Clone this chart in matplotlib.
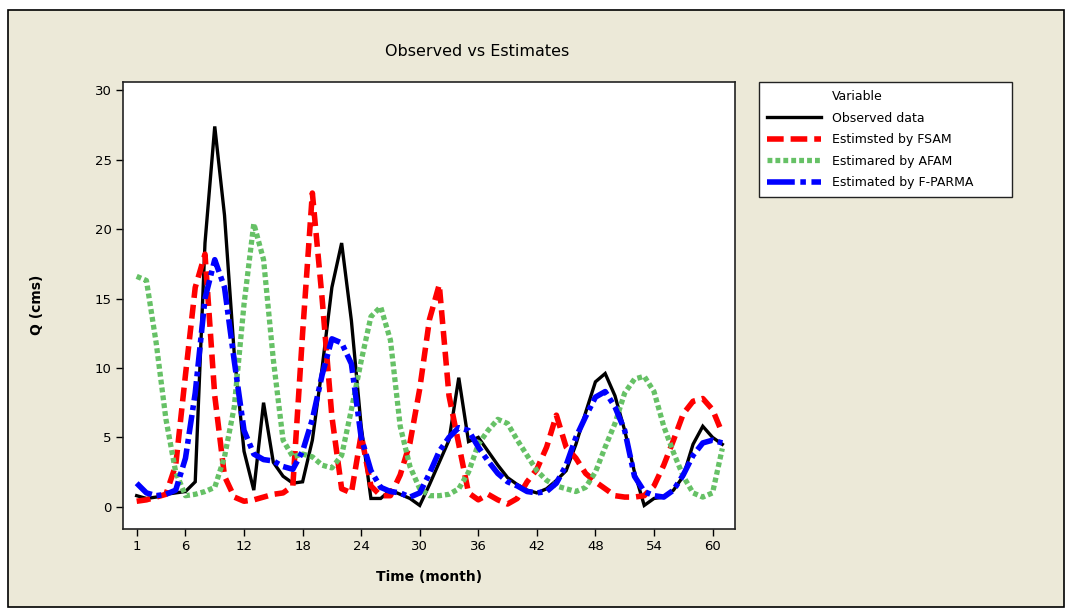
import numpy as np
import matplotlib
matplotlib.use('Agg')
import matplotlib.pyplot as plt
from matplotlib.lines import Line2D
from matplotlib.patches import Rectangle

plt.rcParams['font.family'] = ['DejaVu Sans']
plt.rcParams['lines.scale_dashes'] = False

months = np.arange(1, 62)

observed = [0.8, 0.6, 0.7, 0.9, 1.0, 1.1, 1.8, 19.0, 27.4, 21.0,
            11.0, 4.0, 1.2, 7.5, 3.2, 2.2, 1.7, 1.8, 4.8, 10.0,
            15.8, 19.0, 13.4, 5.8, 0.6, 0.6, 1.2, 0.9, 0.6, 0.1,
            1.6, 3.2, 4.8, 9.3, 4.7, 5.0, 4.0, 3.0, 2.1, 1.6,
            1.2, 1.0, 1.3, 1.9, 2.6, 4.5, 6.8, 9.0, 9.6, 8.0,
            5.5, 2.5, 0.1, 0.6, 0.7, 1.2, 2.2, 4.5, 5.8, 5.0, 4.5]
fsam = [0.4, 0.5, 0.7, 0.9, 3.0, 9.5, 15.8, 18.2, 8.0, 2.2,
        0.7, 0.4, 0.5, 0.7, 0.9, 1.0, 1.5, 12.5, 22.6, 15.0,
        6.5, 1.3, 1.0, 5.2, 1.5, 0.8, 0.8, 2.3, 4.6, 8.5,
        13.5, 16.0, 8.0, 4.5, 1.0, 0.5, 0.9, 0.5, 0.2, 0.6,
        1.8, 2.7, 4.3, 6.6, 4.3, 3.5, 2.4, 1.8, 1.3, 0.8,
        0.7, 0.7, 0.8, 1.5, 3.0, 4.8, 6.7, 7.6, 7.8, 7.0, 5.3]
afam = [16.6, 16.3, 11.8, 6.3, 2.5, 0.8, 0.9, 1.1, 1.4, 3.6,
        7.2, 14.6, 20.4, 17.8, 10.6, 4.8, 3.6, 3.8, 3.6, 3.0,
        2.8, 3.7, 7.0, 10.5, 13.7, 14.4, 12.0, 5.8, 2.9, 1.3,
        0.8, 0.8, 0.9, 1.3, 2.5, 4.5, 5.5, 6.3, 6.0, 4.8,
        3.7, 2.6, 1.9, 1.5, 1.3, 1.1, 1.4, 2.5, 4.3, 6.0,
        8.2, 9.2, 9.4, 8.3, 5.8, 3.9, 2.2, 1.0, 0.7, 1.0, 4.2]
fparma = [1.7, 1.0, 0.8, 0.9, 1.2, 3.5, 8.2, 15.0, 17.8, 15.8,
          10.5, 5.5, 3.8, 3.4, 3.3, 2.9, 2.7, 4.0, 6.3, 9.5,
          12.1, 11.8, 10.3, 5.0, 2.6, 1.4, 1.1, 1.0, 0.7, 1.0,
          2.4, 4.0, 5.0, 5.7, 5.5, 4.3, 3.3, 2.4, 1.8, 1.5,
          1.1, 1.0, 1.1, 1.7, 3.0, 5.0, 6.5, 7.9, 8.3, 7.2,
          5.5, 2.2, 1.1, 0.8, 0.7, 1.2, 2.3, 3.7, 4.6, 4.8, 4.6]

labels = ['Observed data', 'Estimsted by FSAM', 'Estimared by AFAM', 'Estimated by F-PARMA']
x_ticks = [1, 6, 12, 18, 24, 30, 36, 42, 48, 54, 60]
y_ticks = [0, 5, 10, 15, 20, 25, 30]

bg = '#ECE9D8'
fig = plt.figure(figsize=(10.73, 6.16), dpi=100, facecolor='white')
# outer frame of the graph window
fig.patches.append(Rectangle((8 / 1073, 1 - 607 / 616), 1056 / 1073, 597 / 616,
                             transform=fig.transFigure, facecolor=bg,
                             edgecolor='black', linewidth=1.2, zorder=-10))

ax = fig.add_axes([123 / 1073, 1 - 529 / 616, 612 / 1073, 447 / 616])
ax.set_facecolor('white')

ax.plot(months, observed, color='black', linewidth=2.4, solid_joinstyle='miter')
ax.plot(months, fsam, color='#FF0000', linewidth=4.0, dashes=(10, 5), dash_capstyle='butt')
ax.plot(months, afam, color='#66C166', linewidth=3.8, dashes=(3.5, 2.2), dash_capstyle='butt')
ax.plot(months, fparma, color='#0000FF', linewidth=4.0, dashes=(14, 3.5, 3.5, 3.5), dash_capstyle='butt')

ax.set_xlim(-0.4, 62.3)
ax.set_ylim(-1.6, 30.6)
ax.set_xticks(x_ticks)
ax.set_yticks(y_ticks)
ax.tick_params(direction='out', length=5, width=1, labelsize=9.5, colors='black', pad=3)
for s in ax.spines.values():
    s.set_linewidth(1.2)
    s.set_color('#222222')

fig.text(477 / 1073, 1 - 52 / 616, 'Observed vs Estimates', ha='center', va='center', fontsize=11.5)
fig.text(429 / 1073, 1 - 577 / 616, 'Time (month)', ha='center', va='center',
         fontsize=10, fontweight='bold')
fig.text(37 / 1073, 1 - 305 / 616, 'Q (cms)', ha='center', va='center', rotation=90,
         fontsize=10, fontweight='bold')

handles = [Line2D([], [], linestyle='none'),
           Line2D([], [], color='black', linewidth=2.4),
           Line2D([], [], color='#FF0000', linewidth=4.0, dashes=(12, 5)),
           Line2D([], [], color='#66C166', linewidth=3.8, dashes=(3.5, 2.2)),
           Line2D([], [], color='#0000FF', linewidth=4.0, dashes=(20, 4, 4, 4))]
leg = fig.legend(handles, ['Variable'] + labels, loc='upper left',
                 bbox_to_anchor=(759 / 1073, 0.5, 253 / 1073, 1 - 82 / 616 - 0.5),
                 mode='expand', borderaxespad=0, fontsize=9, frameon=True, fancybox=False,
                 framealpha=1, facecolor='white',
                 handlelength=4.3, handletextpad=0.9, labelspacing=0.68, borderpad=0.65)
leg.get_frame().set_edgecolor('#222222')
leg.get_frame().set_linewidth(1.0)

fig.savefig('out.png', dpi=100, facecolor=fig.get_facecolor())
